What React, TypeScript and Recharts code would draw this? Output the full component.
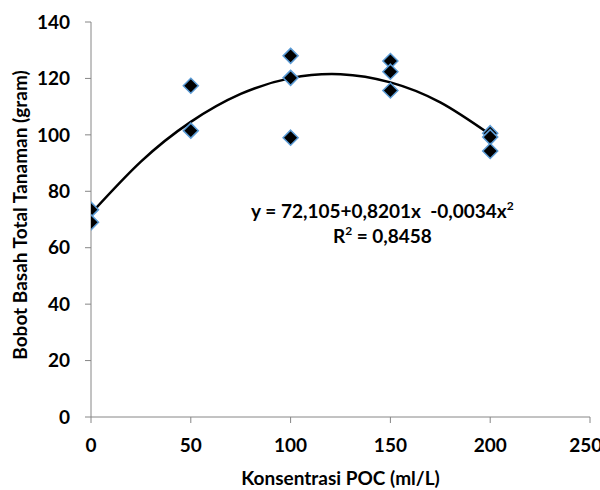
import React from 'react';
import { ComposedChart, XAxis, YAxis, Scatter, Line, ReferenceDot } from 'recharts';

const doses = [0, 0, 50, 50, 100, 100, 100, 150, 150, 150, 200, 200, 200];
const weights = [73.5, 69, 117.4, 101.5, 128, 120.2, 99, 126.2, 122.4, 115.7, 100.6, 99.2, 94.3];
const trendX = [0, 25, 50, 75, 100, 125, 150, 175, 200];
const trendY = [72.1, 90.5, 104.6, 114.5, 120.1, 121.5, 118.6, 111.5, 100.1];
const xTicks = [0, 50, 100, 150, 200, 250];
const yTicks = [0, 20, 40, 60, 80, 100, 120, 140];
const equationText = 'y = 72,105+0,8201x  -0,0034x';
const r2Text = 'R';
const r2Value = ' = 0,8458';
const xTitle = 'Konsentrasi POC (ml/L)';
const yTitle = 'Bobot Basah Total Tanaman (gram)';

const points = doses.map((d, i) => ({ x: d, y: weights[i] }));
const trend = trendX.map((d, i) => ({ x: d, y: trendY[i] }));

const FONT = 'Lato, "Open Sans", sans-serif';
const FS = 19;
const AXIS = '#868686';

const Diamond = (props: any) => {
  const { cx, cy } = props;
  if (cx == null || cy == null) return null;
  const r = 7.5;
  return (
    <path
      d={`M${cx},${cy - r} L${cx + r},${cy} L${cx},${cy + r} L${cx - r},${cy} Z`}
      fill="#000"
      stroke="#5B9BD5"
      strokeWidth={1.5}
    />
  );
};

const EqLabel = (props: any) => {
  const vb = props.viewBox || {};
  const cx = vb.cx ?? vb.x;
  const cy = vb.cy ?? vb.y;
  return (
    <g fontFamily={FONT} fontWeight="bold" fontSize={FS} fill="#000" textAnchor="middle">
      <text x={cx} y={cy} style={{ whiteSpace: 'pre' }}>
        {equationText}
        <tspan fontSize={12} dy={-8}>2</tspan>
      </text>
      <text x={cx} y={cy + 25}>
        {r2Text}
        <tspan fontSize={12} dy={-8}>2</tspan>
        <tspan dy={8}>{r2Value}</tspan>
      </text>
    </g>
  );
};

const YTitle = (props: any) => {
  const x = 27;
  const y = 215;
  return (
    <text
      x={x}
      y={y}
      transform={`rotate(-90, ${x}, ${y})`}
      textAnchor="middle"
      fontFamily={FONT}
      fontWeight="bold"
      fontSize={FS}
      fill="#000"
    >
      {yTitle}
    </text>
  );
};

export default function App() {
  return (
    <div style={{ position: 'absolute', left: 0, top: 0, width: 600, height: 490, background: '#fff' }}>
      <ComposedChart width={600} height={490} margin={{ top: 22, right: 10, bottom: 0, left: 0 }}>
        <XAxis
          type="number"
          dataKey="x"
          domain={[0, 250]}
          ticks={xTicks}
          allowDataOverflow
          height={73}
          stroke={AXIS}
          tickSize={6}
          tickMargin={16}
          tick={{ fill: '#000', fontFamily: FONT, fontWeight: 'bold', fontSize: FS }}
          label={{
            value: xTitle,
            position: 'insideBottom',
            offset: 5,
            fill: '#000',
            fontFamily: FONT,
            fontWeight: 'bold',
            fontSize: FS,
          }}
        />
        <YAxis
          type="number"
          dataKey="y"
          domain={[0, 140]}
          ticks={yTicks}
          width={91}
          stroke={AXIS}
          tickSize={6}
          tickMargin={15}
          tick={{ fill: '#000', fontFamily: FONT, fontWeight: 'bold', fontSize: FS }}
          label={<YTitle />}
        />
        <Line
          data={trend}
          dataKey="y"
          type="natural"
          stroke="#000"
          strokeWidth={2.5}
          dot={false}
          activeDot={false}
          isAnimationActive={false}
        />
        <Scatter data={points} dataKey="y" shape={<Diamond />} isAnimationActive={false} />
        <ReferenceDot x={146} y={70.5} r={0} fill="none" stroke="none" label={<EqLabel />} />
      </ComposedChart>
    </div>
  );
}
